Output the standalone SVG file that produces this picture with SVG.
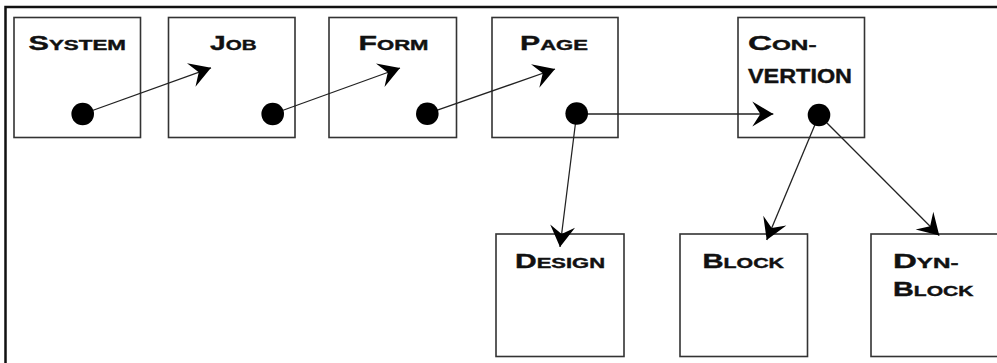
<svg xmlns="http://www.w3.org/2000/svg" width="997" height="363" viewBox="0 0 997 363">
  <style>
    .frame { fill: none; stroke: #111; stroke-width: 2.5; }
    .box { fill: #fff; stroke: #333; stroke-width: 1.6; }
    .lbl { font-family: "Liberation Sans", Arial, sans-serif; font-weight: bold; fill: #111; stroke: #111; stroke-width: 0.4; }
    .big { font-size: 20.5px; }
    .sm { font-size: 15px; }
    .edge { fill: none; stroke: #222; stroke-width: 1.3; }
    .dot { fill: #000; }
  </style>
  <defs>
    <marker id="head" markerUnits="userSpaceOnUse" viewBox="-22 -14 24 28" refX="0" refY="0" markerWidth="24" markerHeight="28" orient="auto">
      <path d="M0,0 L-21,-12.5 L-13,0 L-21,12.5 Z" fill="#000"/>
    </marker>
  </defs>

  <rect width="997" height="363" fill="#fff"/>
  <!-- outer frame (left and top edges) -->
  <path class="frame" d="M5.5,363 V7 H997"/>

  <g id="system">
    <rect class="box" x="14" y="17.5" width="126.5" height="120"/>
    <text class="lbl" x="28.5" y="50" textLength="97.5" lengthAdjust="spacingAndGlyphs"><tspan class="big">S</tspan><tspan class="sm">YSTEM</tspan></text>
  </g>
  <g id="job">
    <rect class="box" x="168.5" y="17.5" width="126.5" height="120"/>
    <text class="lbl" x="210" y="50" textLength="46.5" lengthAdjust="spacingAndGlyphs"><tspan class="big">J</tspan><tspan class="sm">OB</tspan></text>
  </g>
  <g id="form">
    <rect class="box" x="329" y="17.5" width="127.5" height="120"/>
    <text class="lbl" x="358.5" y="50" textLength="70" lengthAdjust="spacingAndGlyphs"><tspan class="big">F</tspan><tspan class="sm">ORM</tspan></text>
  </g>
  <g id="page">
    <rect class="box" x="492" y="17.5" width="126" height="120"/>
    <text class="lbl" x="520" y="50" textLength="68" lengthAdjust="spacingAndGlyphs"><tspan class="big">P</tspan><tspan class="sm">AGE</tspan></text>
  </g>
  <g id="convertion">
    <rect class="box" x="738" y="17.5" width="126.5" height="120"/>
    <text class="lbl" x="748" y="50" textLength="68.5" lengthAdjust="spacingAndGlyphs"><tspan class="big">C</tspan><tspan class="sm">ON-</tspan></text>
    <text class="lbl big" x="748" y="83" textLength="104" lengthAdjust="spacingAndGlyphs">VERTION</text>
  </g>
  <g id="design">
    <rect class="box" x="496" y="234" width="128" height="122.5"/>
    <text class="lbl" x="515" y="267.5" textLength="90" lengthAdjust="spacingAndGlyphs"><tspan class="big">D</tspan><tspan class="sm">ESIGN</tspan></text>
  </g>
  <g id="block">
    <rect class="box" x="680" y="234" width="127.5" height="122.5"/>
    <text class="lbl" x="702.5" y="267.5" textLength="81.5" lengthAdjust="spacingAndGlyphs"><tspan class="big">B</tspan><tspan class="sm">LOCK</tspan></text>
  </g>
  <g id="dynblock">
    <rect class="box" x="871" y="234" width="127" height="122.5"/>
    <text class="lbl" x="893" y="267.5" textLength="65.5" lengthAdjust="spacingAndGlyphs"><tspan class="big">D</tspan><tspan class="sm">YN-</tspan></text>
    <text class="lbl" x="893" y="296" textLength="80.5" lengthAdjust="spacingAndGlyphs"><tspan class="big">B</tspan><tspan class="sm">LOCK</tspan></text>
  </g>

  <g id="connectors">
    <path class="edge" d="M82.7,114 L211,67.8" marker-end="url(#head)"/>
    <path class="edge" d="M272.7,114 L400,68" marker-end="url(#head)"/>
    <path class="edge" d="M427.3,113.7 L555,69" marker-end="url(#head)"/>
    <path class="edge" d="M576.7,114 L773.3,114" marker-end="url(#head)"/>
    <path class="edge" d="M576.7,113.5 L560,247" marker-end="url(#head)"/>
    <path class="edge" d="M819,115 L766.7,240" marker-end="url(#head)"/>
    <path class="edge" d="M819,115 L939.3,235.5" marker-end="url(#head)"/>
    <circle class="dot" cx="82.7" cy="114" r="11.3"/>
    <circle class="dot" cx="272.7" cy="114" r="11.3"/>
    <circle class="dot" cx="427.3" cy="113.7" r="11.3"/>
    <circle class="dot" cx="576.7" cy="113.5" r="11.3"/>
    <circle class="dot" cx="819" cy="115" r="11.3"/>
  </g>
</svg>
